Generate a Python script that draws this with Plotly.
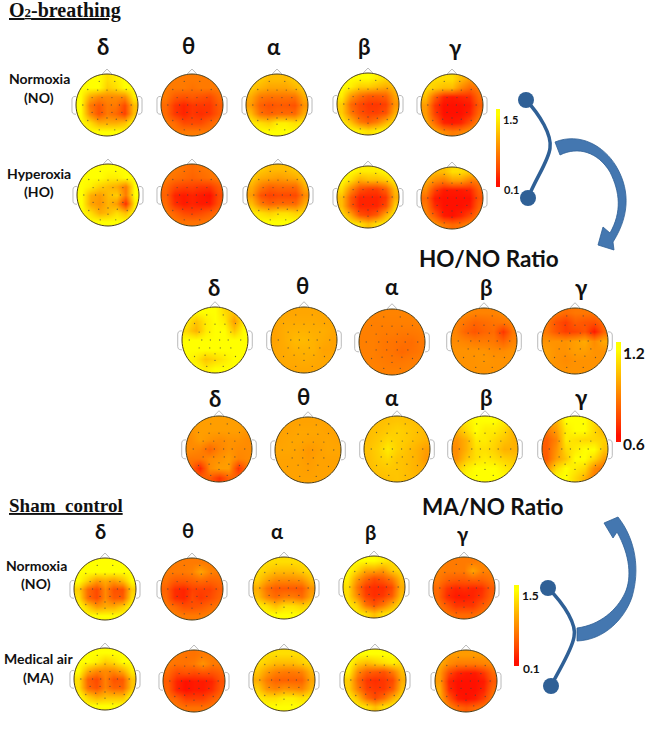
import numpy as np
import plotly.graph_objects as go

# Power maps (colour scale 0.1 .. 1.5), rows front of head -> back, cols left -> right
o2_no_delta = [[1.5,1.5,1.5,1.3,1.4,1.5,1.5],[1.5,1.5,1.5,1.2,1.3,1.5,1.5],[1.5,1.0,.8,.8,.8,.8,1.4],[1.5,.7,.5,.7,.7,.4,1.1],[1.5,.8,.45,.7,.6,.35,1.1],[1.5,1.3,1.0,1.0,1.0,1.1,1.5],[1.5,1.5,1.5,1.5,1.5,1.5,1.5]]
o2_no_theta = [[.7,.7,.7,.7,.7,.7,.7],[.7,.7,.7,.65,.7,.7,.7],[.7,.5,.45,.5,.45,.4,.6],[.6,.3,.2,.3,.3,.3,.5],[.6,.3,.2,.3,.25,.3,.5],[.7,.6,.4,.4,.4,.55,.7],[.7,.7,.7,.7,.7,.7,.7]]
o2_no_alpha = [[1.2,1.2,1.1,1.1,1.1,1.2,1.2],[1.2,1.05,.95,.95,.95,1.05,1.2],[1.0,.7,.65,.65,.65,.65,1.0],[.9,.55,.45,.5,.5,.45,.85],[1.1,.65,.55,.6,.6,.6,1.0],[1.4,1.3,1.2,1.4,1.4,1.3,1.4],[1.5,1.5,1.5,1.5,1.5,1.5,1.5]]
o2_no_beta = [[1.5,1.5,1.5,1.5,1.4,1.3,1.3],[1.5,1.4,1.2,1.2,1.1,1.0,1.1],[1.4,.9,.65,.5,.5,.55,.95],[1.2,.6,.4,.3,.3,.35,.85],[1.2,.7,.45,.35,.35,.45,1.0],[1.4,1.1,.7,.55,.7,1.0,1.3],[1.5,1.5,1.4,1.3,1.4,1.5,1.5]]
o2_no_gamma = [[1.3,1.3,1.3,1.3,1.1,.9,.9],[1.3,1.2,1.1,1.1,.8,.6,.7],[1.1,.55,.2,.15,.2,.25,.6],[.9,.3,.1,.1,.1,.15,.5],[.9,.35,.1,.1,.1,.2,.6],[1.0,.6,.2,.15,.2,.45,.8],[1.1,1.0,.8,.7,.75,.9,1.0]]

o2_ho_delta = [[1.5,1.5,1.5,1.5,1.5,1.5,1.5],[1.5,1.5,1.5,1.4,1.4,1.5,1.5],[1.5,1.4,1.2,1.1,1.0,.7,1.5],[1.5,1.0,.9,1.1,1.2,.7,1.5],[1.5,.95,.85,1.05,.9,.25,1.4],[1.5,1.3,1.0,1.1,1.3,1.1,1.5],[1.5,1.5,1.5,1.5,1.5,1.5,1.5]]
o2_ho_theta = [[.7,.7,.65,.6,.65,.7,.7],[.7,.65,.6,.55,.6,.65,.7],[.6,.4,.35,.35,.3,.3,.5],[.55,.2,.15,.2,.15,.1,.4],[.6,.25,.15,.2,.15,.15,.45],[.7,.55,.4,.35,.4,.5,.65],[.75,.7,.65,.65,.65,.7,.75]]
o2_ho_alpha = [[1.2,1.2,1.1,1.1,1.1,1.2,1.2],[1.2,1.0,.95,.9,.95,1.0,1.2],[1.0,.7,.55,.6,.6,.6,1.0],[.9,.45,.35,.4,.4,.4,.8],[1.1,.7,.55,.6,.6,.6,1.0],[1.4,1.3,1.2,1.3,1.3,1.2,1.3],[1.5,1.5,1.5,1.5,1.5,1.5,1.5]]
o2_ho_beta = [[1.5,1.5,1.4,1.4,1.4,1.5,1.5],[1.5,1.3,1.0,1.1,1.1,1.2,1.4],[1.3,.8,.45,.35,.35,.55,1.1],[1.1,.5,.2,.2,.2,.3,1.0],[1.1,.5,.2,.2,.2,.4,1.2],[1.3,.95,.45,.35,.5,1.0,1.4],[1.5,1.4,1.3,1.1,1.3,1.4,1.5]]
o2_ho_gamma = [[1.2,1.1,1.1,1.3,1.3,1.2,1.1],[1.0,.8,.7,.9,.9,.7,.7],[.8,.35,.15,.15,.15,.2,.55],[.6,.15,.1,.1,.1,.1,.45],[.7,.25,.1,.1,.1,.15,.55],[.8,.5,.15,.1,.2,.4,.7],[1.0,.9,.7,.6,.65,.8,.9]]

sham_no_delta = [[1.5,1.5,1.5,1.5,1.5,1.5,1.5],[1.5,1.5,1.5,1.5,1.5,1.5,1.5],[1.5,1.2,.9,1.0,.9,1.1,1.5],[1.2,.6,.4,.8,.45,.45,1.2],[1.3,.6,.4,.8,.5,.5,1.3],[1.5,1.2,.9,1.0,1.0,1.2,1.5],[1.5,1.5,1.5,1.5,1.5,1.5,1.5]]
sham_no_theta = [[.7,.7,.7,.7,.7,.7,.7],[.7,.7,.7,.75,.95,.75,.7],[.65,.5,.5,.55,.6,.55,.6],[.55,.25,.2,.35,.35,.35,.5],[.6,.25,.2,.4,.3,.4,.55],[.7,.6,.45,.45,.5,.6,.7],[.75,.75,.7,.7,.7,.75,.75]]
sham_no_alpha = [[1.4,1.3,1.3,1.3,1.3,1.3,1.4],[1.3,1.2,1.1,1.1,1.1,1.2,1.3],[1.2,.95,.8,.8,.8,.85,1.1],[1.0,.65,.5,.5,.5,.5,.85],[1.1,.75,.6,.7,.7,.6,.95],[1.4,1.3,1.1,1.3,1.3,1.2,1.3],[1.5,1.5,1.5,1.5,1.5,1.5,1.5]]
sham_no_beta = [[1.4,1.5,1.5,1.5,1.4,1.3,1.3],[1.5,1.3,1.0,1.0,.9,1.2,1.3],[1.4,.9,.6,.4,.5,.7,1.1],[1.3,.7,.3,.25,.25,.4,1.0],[1.3,.8,.35,.25,.3,.5,1.1],[1.4,1.2,.65,.45,.65,1.0,1.3],[1.5,1.4,1.3,1.1,1.3,1.4,1.5]]
sham_no_gamma = [[.8,.7,.7,.7,.7,.75,.8],[.75,.7,.7,.7,.95,.75,.75],[.7,.55,.5,.5,.55,.55,.65],[.6,.3,.2,.25,.2,.25,.5],[.6,.25,.15,.15,.2,.3,.55],[.7,.5,.3,.3,.3,.5,.65],[.75,.7,.6,.6,.6,.7,.75]]

sham_ma_delta = [[1.5,1.5,1.5,1.5,1.5,1.5,1.5],[1.5,1.5,1.4,1.2,1.3,1.5,1.5],[1.5,1.0,.8,.8,.8,1.0,1.4],[1.3,.55,.4,.75,.45,.5,1.15],[1.3,.6,.45,.75,.55,.55,1.15],[1.5,1.2,1.0,1.1,1.1,1.1,1.5],[1.5,1.5,1.5,1.5,1.5,1.5,1.5]]
sham_ma_theta = [[.7,.7,.65,.65,.7,.7,.7],[.7,.65,.65,.7,.85,.7,.7],[.6,.4,.45,.4,.45,.45,.55],[.5,.2,.1,.15,.15,.2,.45],[.55,.2,.1,.15,.15,.25,.5],[.65,.55,.35,.35,.35,.5,.65],[.75,.7,.65,.65,.65,.7,.75]]
sham_ma_alpha = [[1.4,1.3,1.3,1.3,1.3,1.3,1.4],[1.3,1.2,1.1,1.1,1.1,1.2,1.3],[1.15,.9,.75,.7,.7,.75,1.05],[1.0,.7,.55,.55,.55,.55,.95],[1.2,.85,.75,.85,.8,.75,1.05],[1.4,1.3,1.3,1.4,1.4,1.3,1.4],[1.5,1.5,1.5,1.5,1.5,1.5,1.5]]
sham_ma_beta = [[1.5,1.5,1.5,1.5,1.5,1.5,1.4],[1.5,1.2,1.1,1.2,1.3,1.4,1.3],[1.4,.8,.55,.5,.45,.7,1.1],[1.2,.6,.3,.25,.3,.4,1.0],[1.2,.7,.35,.3,.3,.5,1.1],[1.4,1.1,.6,.4,.6,1.0,1.3],[1.5,1.4,1.3,1.1,1.3,1.4,1.5]]
sham_ma_gamma = [[1.1,.9,.9,.9,.9,.9,.9],[1.0,.8,.7,.7,.7,.75,.8],[.9,.4,.2,.15,.15,.3,.6],[.9,.2,.1,.1,.1,.15,.5],[1.0,.25,.1,.1,.1,.2,.6],[1.0,.5,.15,.1,.15,.35,.7],[1.0,.8,.6,.5,.6,.7,.9]]

# Ratio maps (colour scale 0.6 .. 1.2)
ho_no_delta = [[1.2,1.2,1.2,1.2,1.1,1.05,1.2],[1.15,1.05,1.15,1.2,1.15,.95,1.15],[1.1,1.0,1.15,1.2,1.2,1.05,1.2],[1.2,1.2,1.2,1.2,1.2,1.2,1.2],[1.2,1.2,1.2,1.2,1.2,1.2,1.2],[1.2,1.15,1.05,1.1,1.15,1.2,1.2],[1.2,1.2,1.15,1.2,1.2,1.2,1.2]]
ho_no_theta = [[.97,.97,.97,.97,.97,.97,.97],[.97,.98,.98,.98,.98,.97,.97],[.96,.99,1.0,1.0,.99,.99,.97],[.96,.99,1.02,1.02,1.0,.98,.96],[.97,.98,1.0,1.0,1.0,.96,.96],[.97,.98,.98,.99,.98,.97,.97],[.97,.97,.97,.97,.97,.97,.97]]
ho_no_alpha = [[.89,.88,.88,.88,.88,.88,.89],[.88,.87,.87,.87,.87,.87,.88],[.87,.87,.86,.86,.85,.85,.86],[.87,.87,.85,.84,.83,.82,.85],[.87,.87,.85,.84,.81,.83,.85],[.88,.87,.86,.85,.85,.86,.87],[.88,.88,.87,.87,.87,.88,.88]]
ho_no_beta = [[.9,.9,.88,.88,.88,.9,.9],[.88,.84,.8,.82,.84,.85,.88],[.88,.8,.76,.8,.82,.68,.85],[.9,.88,.86,.86,.85,.8,.88],[.92,.92,.92,.92,.9,.9,.92],[.92,.92,.92,.93,.92,.92,.92],[.92,.92,.92,.92,.92,.92,.92]]
ho_no_gamma = [[.88,.85,.82,.85,.85,.85,.88],[.85,.75,.7,.78,.76,.75,.82],[.85,.76,.7,.72,.76,.62,.8],[.92,.92,.92,.95,.98,.9,.98],[.95,.92,.92,.95,.95,.92,.92],[.95,.92,.9,.92,.92,.92,.92],[.92,.92,.92,.92,.92,.92,.92]]

ma_no_delta = [[.95,.95,.95,.95,.95,.95,.95],[.92,.95,.95,.95,.95,.95,.92],[.9,.95,.92,.9,.92,.92,.9],[.9,.88,.8,.88,.92,.9,.9],[.85,.85,.9,.92,.95,.88,.9],[.82,.65,.9,.95,.95,.68,.85],[.8,.8,.78,.68,.8,.8,.8]]
ma_no_theta = [[.96,.96,.96,.96,.96,.96,.96],[.96,.96,.97,.97,.97,.96,.96],[.96,.97,.97,.96,.96,.97,.96],[.97,.97,.96,.93,.95,.97,.97],[.96,.96,.96,.94,.96,.96,.96],[.96,.96,.96,.95,.96,.96,.96],[.96,.96,.96,.96,.96,.96,.96]]
ma_no_alpha = [[1.02,1.03,1.04,1.05,1.04,1.03,1.02],[1.03,1.04,1.06,1.08,1.06,1.04,1.02],[1.03,1.06,1.1,1.08,1.06,1.03,1.0],[1.04,1.08,1.15,1.08,1.04,1.0,.95],[1.03,1.07,1.1,1.05,1.03,1.0,.93],[1.03,1.05,1.06,1.05,1.03,1.0,.98],[1.02,1.03,1.04,1.05,1.03,1.02,1.0]]
ma_no_beta = [[1.1,1.15,1.2,1.2,1.2,1.15,1.1],[1.0,1.1,1.2,1.15,1.15,1.1,1.0],[.92,1.0,1.15,1.15,1.1,1.05,1.0],[.9,1.0,1.12,1.12,1.08,1.0,1.0],[.92,1.05,1.12,1.15,1.12,1.08,1.05],[1.05,1.15,1.2,1.2,1.2,1.15,1.1],[1.15,1.2,1.2,1.2,1.2,1.2,1.15]]
ma_no_gamma = [[.95,1.0,1.2,1.2,1.2,1.1,1.0],[.85,.95,1.15,1.2,1.2,1.1,1.0],[.78,.88,1.15,1.12,1.1,1.1,1.08],[.78,.92,1.1,1.15,1.2,1.2,1.05],[.78,.95,1.05,1.2,1.2,1.1,.95],[.9,1.1,1.2,1.15,1.1,.9,.82],[1.1,1.2,1.2,1.1,1.0,.85,.85]]

power_maps = [o2_no_delta, o2_no_theta, o2_no_alpha, o2_no_beta, o2_no_gamma,
              o2_ho_delta, o2_ho_theta, o2_ho_alpha, o2_ho_beta, o2_ho_gamma,
              sham_no_delta, sham_no_theta, sham_no_alpha, sham_no_beta, sham_no_gamma,
              sham_ma_delta, sham_ma_theta, sham_ma_alpha, sham_ma_beta, sham_ma_gamma]
ratio_maps = [ho_no_delta, ho_no_theta, ho_no_alpha, ho_no_beta, ho_no_gamma,
              ma_no_delta, ma_no_theta, ma_no_alpha, ma_no_beta, ma_no_gamma]

bands = ["δ", "θ", "α", "β", "γ"]
power_scale_levels = [1.5, 1.3, 1.1, .9, .7, .5, .3, .1]
ratio_scale_levels = [1.2, 1.1, 1.0, .9, .8, .7, .6]

# Electrode layout, in head radii
electrode_x = [-.25,.25,-.62,-.3,0,.3,.62,-.48,-.16,.16,.48,-.78,-.4,-.14,.14,.4,.78,-.48,-.16,.16,.48,-.62,-.3,0,.3,.62,0,-.25,.25]
electrode_y = [-.76,-.76,-.5,-.48,-.48,-.48,-.5,-.24,-.24,-.24,-.24,0,0,0,0,0,0,.24,.24,.24,.24,.5,.46,.42,.46,.5,.62,.8,.8]

# Layout (page pixels)
power_cx = [107,192,277,368,452, 108,192,278,368,452, 105,192,284,374,464, 105,194,284,375,466]
power_cy = [105,105,105,104,105, 195,195,195,197,198, 589,589,588,587,588, 679,681,680,680,681]
ratio_cx = [215,304,392,484,575, 219,308,397,485,575]
ratio_cy = [340,340,342,341,341, 449,450,449,449,449]
POWER_R, RATIO_R = 31, 33

COLORSCALE = [[0, "#ff1000"], [.2, "#ff4600"], [.45, "#ff7f00"], [1, "#ffff00"]]
fig = go.Figure()
shapes = []
INK = "#4a3d18"
GREY = "#a8a8a8"
K = 0.5523


def circle_path(cx, cy, r):
    k = K * r
    return (f"M{cx+r},{cy} C{cx+r},{cy+k} {cx+k},{cy+r} {cx},{cy+r} "
            f"C{cx-k},{cy+r} {cx-r},{cy+k} {cx-r},{cy} "
            f"C{cx-r},{cy-k} {cx-k},{cy-r} {cx},{cy-r} "
            f"C{cx+k},{cy-r} {cx+r},{cy-k} {cx+r},{cy} Z")


def add_head(z, cx, cy, r, zmin, zmax):
    z = np.array(z)
    n = z.shape[0]
    d = 2 * r / n
    fig.add_trace(go.Heatmap(z=z, x0=cx - r + d / 2, dx=d, y0=cy - r + d / 2, dy=d,
                             zmin=zmin, zmax=zmax, zsmooth="best", colorscale=COLORSCALE,
                             showscale=False, hoverinfo="skip"))
    fig.add_trace(go.Scatter(x=cx + r * np.array(electrode_x), y=cy + r * np.array(electrode_y),
                             mode="markers", marker=dict(size=1.3, color="#444444", opacity=.75),
                             hoverinfo="skip", showlegend=False))
    m = r + 2
    shapes.append(dict(type="path", layer="above", fillrule="evenodd", fillcolor="white",
                       line=dict(width=0),
                       path=f"M{cx-m},{cy-m} L{cx+m},{cy-m} L{cx+m},{cy+m} L{cx-m},{cy+m} Z " + circle_path(cx, cy, r)))
    shapes.append(dict(type="path", layer="above", line=dict(color=INK, width=1), path=circle_path(cx, cy, r)))
    nw = .17 * r
    shapes.append(dict(type="path", layer="above", line=dict(color=GREY, width=.8),
                       path=f"M{cx-nw},{cy-r*.985} L{cx},{cy-r*1.16} L{cx+nw},{cy-r*.985}"))
    for s in (-1, 1):
        ex = cx + s * r
        shapes.append(dict(type="path", layer="above", line=dict(color=GREY, width=.8),
                           path=f"M{ex},{cy-r*.28} L{ex+s*.07*r},{cy-r*.27} Q{ex+s*.13*r},{cy-r*.25} {ex+s*.13*r},{cy-r*.18} "
                                f"L{ex+s*.13*r},{cy+r*.2} Q{ex+s*.13*r},{cy+r*.27} {ex+s*.07*r},{cy+r*.29} L{ex},{cy+r*.3}"))


for z, cx, cy in zip(power_maps, power_cx, power_cy):
    add_head(z, cx, cy, POWER_R, .1, 1.5)
for z, cx, cy in zip(ratio_maps, ratio_cx, ratio_cy):
    add_head(z, cx, cy, RATIO_R, .6, 1.2)


def add_scale(levels, x0, x1, y0, y1):
    n = len(levels)
    dy = (y1 - y0) / n
    fig.add_trace(go.Heatmap(z=[[v, v] for v in levels], x0=x0 + (x1 - x0) / 4, dx=(x1 - x0) / 2,
                             y0=y0 + dy / 2, dy=dy, zmin=min(levels), zmax=max(levels),
                             zsmooth="best", colorscale=COLORSCALE, showscale=False, hoverinfo="skip"))


add_scale(power_scale_levels, 496, 500, 109, 187)
add_scale(ratio_scale_levels, 616, 621, 342, 442)
add_scale(power_scale_levels, 514, 519, 585, 666)

SANS = "Lato, Open Sans, sans-serif"
SERIF = "Liberation Serif, serif"


def text(x, y, s, size, family=SANS, color="#111111", anchor="center"):
    return dict(x=x, y=y, text=s, showarrow=False, xref="x", yref="y", xanchor=anchor, yanchor="middle",
                font=dict(family=family, size=size, color=color))


annotations = [
    text(7, 10, "<b><u>O<span style='font-size:13px'>2</span>-breathing</u></b>", 20, SERIF, anchor="left"),
    text(7, 505, "<b><u>Sham  control</u></b>", 19, SERIF, anchor="left"),
    text(489, 258, "<b>HO/NO Ratio</b>", 22.5),
    text(492, 506, "<b>MA/NO Ratio</b>", 22.5),
]
greek_rows = [
    ([103,188,274,364,455], [46,45,46,46,47], 22),
    ([214,302,392,486,581], [287,285,286,287,287], 22),
    ([215,303,392,486,581], [398,396,397,397,397], 22),
    ([100,188,277,370,463], [531,530,531,532,534], 20),
]
for xs, ys, size in greek_rows:
    for g, x, y in zip(bands, xs, ys):
        annotations.append(text(x, y, f"<b>{g}</b>", size))
for x, y, s in [(39,78,"Normoxia"),(39,97,"(NO)"),(39,173,"Hyperoxia"),(39,191,"(HO)"),
                (36,565,"Normoxia"),(36,583,"(NO)"),(38,658,"Medical air"),(38,677,"(MA)")]:
    annotations.append(text(x, y, f"<b>{s}</b>", 14))
for x, y, s, size in [(510,119,"1.5",11),(511,189,"0.1",11),(634,353,"1.2",15.5),(634,444,"0.6",15.5),
                      (530,595,"1.5",12),(531,668,"0.1",12)]:
    annotations.append(text(x, y, f"<b>{s}</b>", size))

# Connectors and curved arrows
BLUE = "#2f6096"
ARROW = "#4477b0"
for top, bottom, curve in [
    ((526,100), (528,198), "M526,100 C540,115 552,135 550,148 C549,160 536,178 528,198"),
    ((548,588), (551,686), "M548,588 C565,605 577,625 574,637 C572,650 560,668 551,686"),
]:
    shapes.append(dict(type="path", line=dict(color=BLUE, width=3.5), path=curve))
    for (x, y) in (top, bottom):
        shapes.append(dict(type="circle", x0=x-8, x1=x+8, y0=y-8, y1=y+8, fillcolor=BLUE, line=dict(width=0)))
shapes.append(dict(type="path", fillcolor=ARROW, line=dict(color=BLUE, width=.8),
                   path="M555,142 C580,132 604,146 616,166 C628,186 632,212 613,242 L614,250 L598,245 L603,227 L610,233 "
                        "C622,212 620,192 610,172 C598,152 578,146 560,155 Z"))
shapes.append(dict(type="path", fillcolor=ARROW, line=dict(color=BLUE, width=.8),
                   path="M577,641 C605,640 625,618 632,597 C640,570 636,540 618,517 L604,523 L613,538 L617,532 "
                        "C630,555 632,578 625,593 C617,610 600,625 577,628 Z"))

fig.update_layout(width=649, height=734, margin=dict(l=0, r=0, t=0, b=0), autosize=False,
                  paper_bgcolor="white", plot_bgcolor="white", showlegend=False,
                  xaxis=dict(range=[0, 649], visible=False, fixedrange=True),
                  yaxis=dict(range=[734, 0], visible=False, fixedrange=True),
                  shapes=shapes, annotations=annotations)
fig.write_html("out.html", config=dict(displayModeBar=False, staticPlot=True),
               post_script="document.body.style.margin='0';document.body.style.overflow='hidden';")
